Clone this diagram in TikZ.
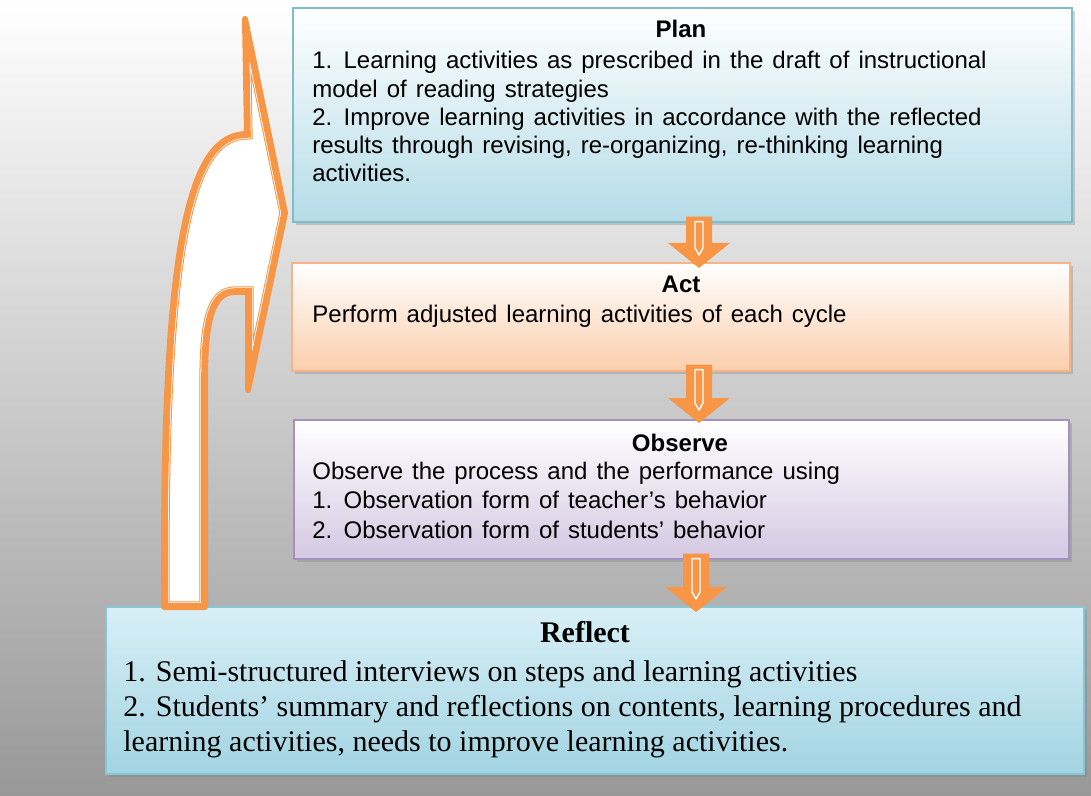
\documentclass[tikz,border=0pt]{standalone}
\usepackage{fontspec}
\setmainfont{Liberation Serif}
\newfontfamily\arialfont{Liberation Sans}[WordSpace=1.35]
\usetikzlibrary{calc,shadows}

\definecolor{bggray}{RGB}{152,152,152}
\definecolor{arroworange}{RGB}{247,150,70}
\definecolor{planblue}{RGB}{180,220,232}
\definecolor{planedge}{RGB}{125,190,204}
\definecolor{actpeach}{RGB}{251,206,172}
\definecolor{actedge}{RGB}{247,180,135}
\definecolor{obslilac}{RGB}{212,200,226}
\definecolor{obsedge}{RGB}{165,145,192}
\definecolor{reftop}{RGB}{216,239,246}
\definecolor{refbottom}{RGB}{162,212,226}
\definecolor{refedge}{RGB}{135,198,214}

\tikzset{
  stagebox/.style={rectangle, anchor=north west, inner sep=0pt, line width=0.8pt,
    drop shadow={shadow xshift=1.5pt, shadow yshift=-1.5pt, opacity=0.35}},
  planbox/.style={stagebox, draw=planedge, top color=white, bottom color=planblue},
  actbox/.style={stagebox, draw=actedge, top color=white, bottom color=actpeach},
  obsbox/.style={stagebox, draw=obsedge, top color=white, bottom color=obslilac},
  refbox/.style={stagebox, draw=refedge, top color=reftop, bottom color=refbottom},
  sanshead/.style={font=\arialfont\bfseries\fontsize{12}{14}\selectfont, inner sep=0pt, anchor=base},
  sanstext/.style={font=\arialfont\fontsize{12}{14.15}\selectfont, inner sep=0pt, align=left},
  serifhead/.style={font=\bfseries\fontsize{15}{17}\selectfont, inner sep=0pt, anchor=base},
  seriftext/.style={font=\fontsize{15}{17.5}\selectfont, inner sep=0pt, align=left},
  stripe/.style={white, line width=0.7pt, line join=round}
}

% block arrow between two stages: #1 top point, #2 tip
\newcommand{\stagearrow}[2]{%
  \fill[arroworange] ($(#1)+(-13,0)$) -- ($(#1)+(13,0)$) -- ($(#2)+(13,-25)$)
    -- ($(#2)+(31,-25)$) -- (#2) -- ($(#2)+(-31,-25)$) -- ($(#2)+(-13,-25)$) -- cycle;
  \draw[stripe] ($(#1)+(-4,5)$) -- ($(#1)+(4,5)$) -- ($(#2)+(4,-20)$)
    -- ($(#2)+(0,-13)$) -- ($(#2)+(-4,-20)$) -- cycle;
}

% outline of the big return arrow
\newcommand{\looppath}{(164,607) -- (164,560) .. controls (164,230) and (192,134) .. (247,134)
  -- (245,19) -- (285,213) -- (248,390) -- (248,292) -- (235,292)
  .. controls (213,292) and (205,318) .. (205,380) -- (205,607) -- cycle}

\begin{document}
\begin{tikzpicture}[x=0.5pt, y=-0.5pt]
\useasboundingbox (0,0) rectangle (1091,796);
\shade[top color=white, bottom color=bggray] (0,0) rectangle (1091,796);

% stages
\node[planbox, minimum width=389.5pt, minimum height=107pt] (plan) at (292,7) {};
\node[actbox, minimum width=389pt, minimum height=54pt] (act) at (291,262) {};
\node[obsbox, minimum width=387.5pt, minimum height=69.5pt] (observe) at (293,419) {};
\node[refbox, minimum width=489pt, minimum height=83.5pt] (reflect) at (105,606) {};

% texts
\node[sanshead] (plantitle) at (681,38) {Plan};
\node[sanstext, anchor=north west] (planbody) at (312,51) {1. Learning activities as prescribed in the draft of instructional\\
model of reading strategies\\
2. Improve learning activities in accordance with the reflected\\
results through revising, re-organizing, re-thinking learning\\
activities.};

\node[sanshead] (acttitle) at (681,293) {Act};
\node[sanstext, anchor=base west] (actbody) at (312,322) {Perform adjusted learning activities of each cycle};

\node[sanshead] (obstitle) at (680,451) {Observe};
\node[sanstext, anchor=north west, font=\arialfont\fontsize{12}{14.6}\selectfont] (obsbody) at (312,462) {Observe the process and the performance using\\
1. Observation form of teacher’s behavior\\
2. Observation form of students’ behavior};

\node[serifhead] (reftitle) at (585,642) {Reflect};
\node[seriftext, anchor=north west] (refbody) at (123,660) {1. Semi-structured interviews on steps and learning activities\\
2. Students’ summary and reflections on contents, learning procedures and\\
learning activities, needs to improve learning activities.};

% arrows between stages
\coordinate (ax) at (699,0);
\coordinate (a1) at ($(plan.south -| ax)+(0,-6)$);
\coordinate (a2) at ($(act.north -| ax)+(0,6)$);
\coordinate (b1) at ($(act.south -| ax)+(0,-7)$);
\coordinate (b2) at ($(observe.north -| ax)+(0,4)$);
\coordinate (c1) at ($(observe.south -| ax)+(-3,-6)$);
\coordinate (c2) at ($(reflect.north -| ax)+(-3,6)$);
\stagearrow{a1}{a2}
\stagearrow{b1}{b2}
\stagearrow{c1}{c2}

% return arrow from reflect to plan
\fill[white] \looppath;
\begin{scope}
  \clip \looppath;
  \draw[arroworange, line width=5.6pt] \looppath;
  \draw[white, line width=4.6pt] \looppath;
  \draw[arroworange, line width=3.8pt] \looppath;
\end{scope}
\draw[arroworange, line width=3pt, line join=round] \looppath;
\end{tikzpicture}
\end{document}
